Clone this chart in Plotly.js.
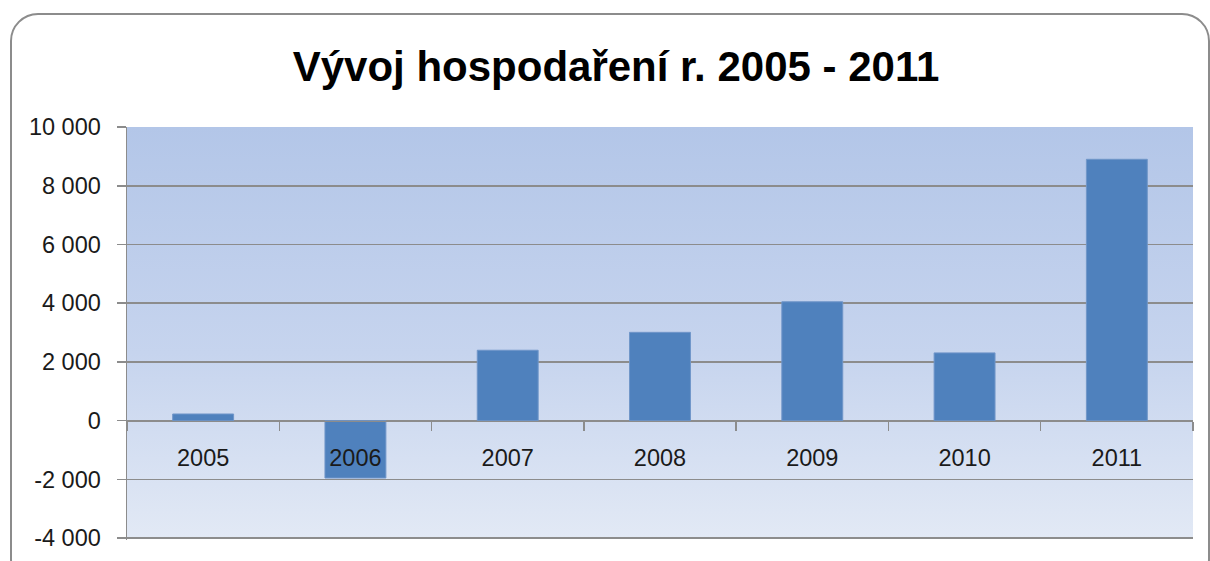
<!DOCTYPE html>
<html>
<head>
<meta charset="utf-8">
<script src="https://cdn.plot.ly/plotly-3.0.1.min.js"></script>
<style>
  html, body { margin: 0; padding: 0; background: #ffffff; overflow: hidden; }
  #wrap { position: relative; width: 1210px; height: 561px; overflow: hidden; }
  #grad { position: absolute; left: 127px; top: 127px; width: 1066px; height: 411px;
          background: linear-gradient(to bottom, #b3c6e8 0%, #c6d4ee 55%, #e2e9f5 100%); }
  #chart { position: absolute; left: 0; top: 0; width: 1210px; height: 561px; }
  #frame { position: absolute; left: 10px; top: 13px; width: 1196px; height: 570px;
           border: 2.5px solid #8c8c8c; border-radius: 28px; pointer-events: none; }
</style>
</head>
<body>
<div id="wrap">
  <div id="grad"></div>
  <div id="chart"></div>
  <div id="frame"></div>
</div>
<script>
const years = ['2005', '2006', '2007', '2008', '2009', '2010', '2011'];
const result = [230, -1950, 2400, 3010, 4050, 2310, 8900];
const yTickVals = [-4000, -2000, 0, 2000, 4000, 6000, 8000, 10000];
const yTickText = ['-4 000', '-2 000', '0', '2 000', '4 000', '6 000', '8 000', '10 000'];
const chartTitle = 'Vývoj hospodaření r. 2005 - 2011';

const font = 'Liberation Sans, Arial, sans-serif';

const data = [{
  type: 'bar',
  x: years,
  y: result,
  marker: { color: '#4f81bd', line: { color: '#7096c9', width: 1 } },
  hoverinfo: 'x+y'
}];

const yMin = -4060, yMax = 10000;

const layout = {
  width: 1210,
  height: 561,
  margin: { l: 127, r: 17, t: 127, b: 21 },
  paper_bgcolor: 'rgba(0,0,0,0)',
  plot_bgcolor: 'rgba(0,0,0,0)',
  showlegend: false,
  bargap: 0.6,
  title: {
    text: chartTitle,
    font: { family: font, size: 42, color: '#000000', weight: 'bold' },
    xref: 'container', x: 616 / 1210, xanchor: 'center',
    yref: 'container', y: 1 - 66 / 561, yanchor: 'middle'
  },
  xaxis: {
    type: 'category',
    anchor: 'free',
    position: (0 - yMin) / (yMax - yMin),
    showline: true,
    linecolor: '#8c8c8c',
    linewidth: 1.5,
    ticks: 'outside',
    tickson: 'boundaries',
    ticklen: 9,
    tickwidth: 1.5,
    tickcolor: '#8c8c8c',
    ticklabelstandoff: 16,
    showgrid: false,
    zeroline: false,
    tickfont: { family: font, size: 23.5, color: '#1a1a1a' },
    fixedrange: true
  },
  yaxis: {
    range: [yMin, yMax],
    tickvals: yTickVals,
    ticktext: yTickText,
    showline: true,
    linecolor: '#8c8c8c',
    linewidth: 1.5,
    ticks: 'outside',
    ticklen: 9,
    tickwidth: 1.5,
    tickcolor: '#8c8c8c',
    ticklabelstandoff: 11,
    showgrid: true,
    gridcolor: '#8c8c8c',
    gridwidth: 1.5,
    zeroline: false,
    tickfont: { family: font, size: 23.5, color: '#1a1a1a' },
    fixedrange: true
  }
};

Plotly.newPlot('chart', data, layout, { displayModeBar: false, staticPlot: true });
</script>
</body>
</html>
